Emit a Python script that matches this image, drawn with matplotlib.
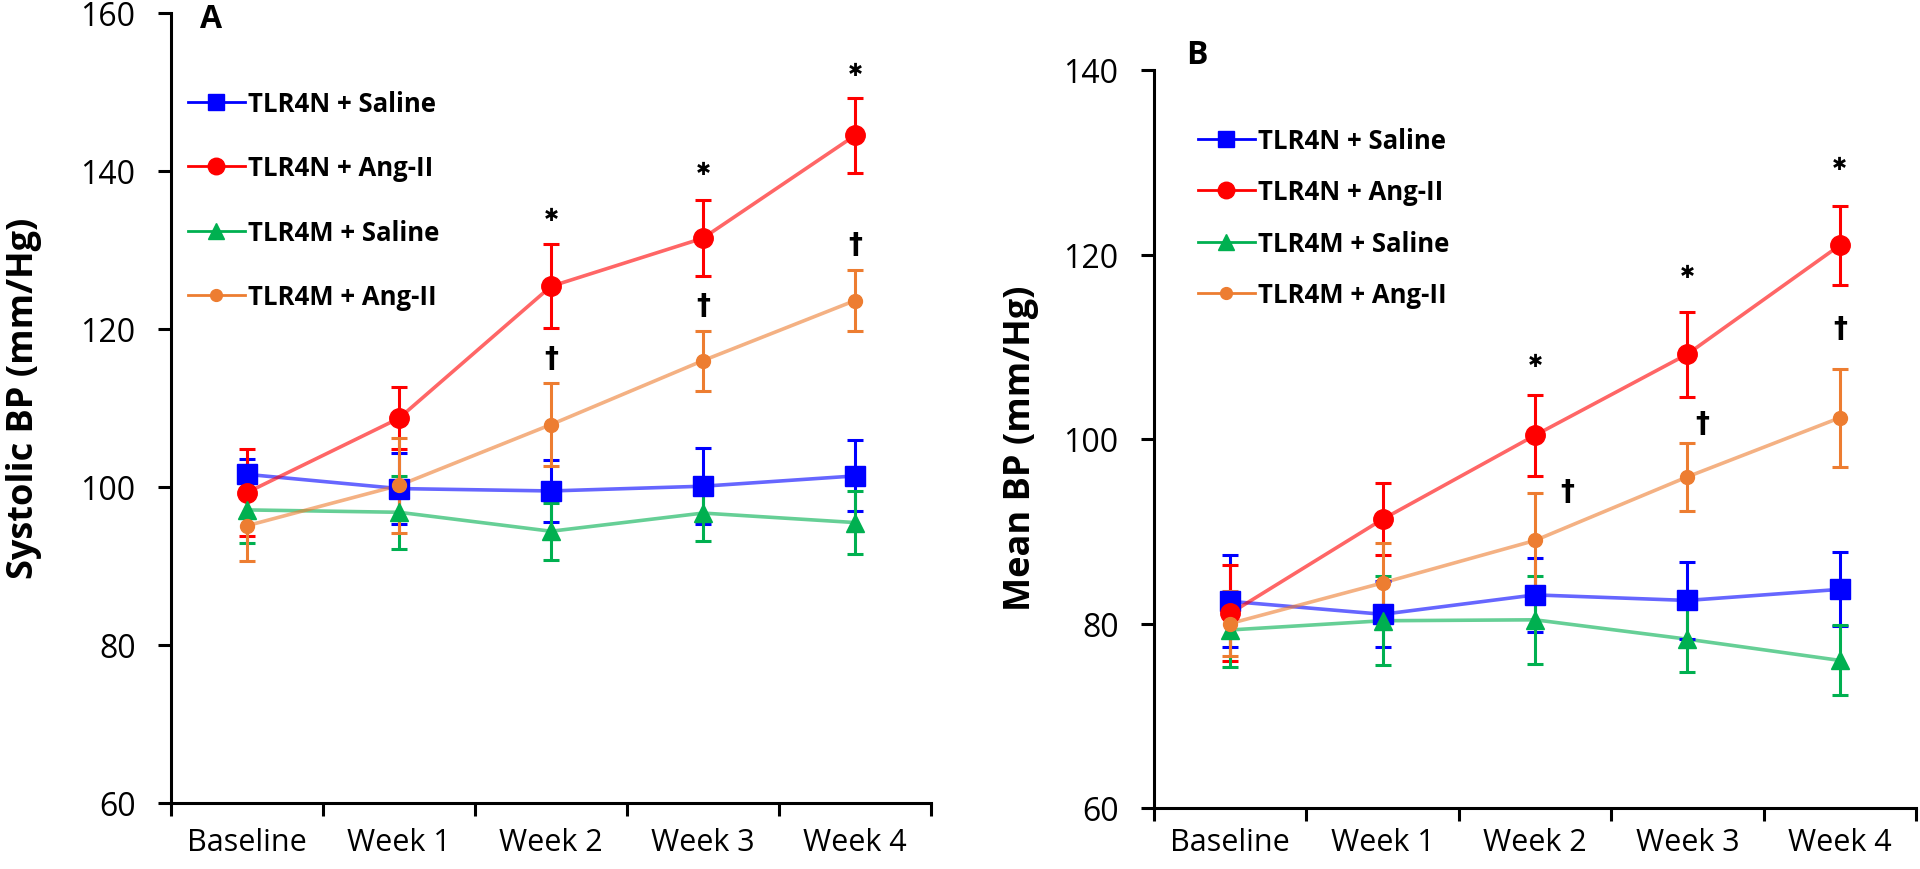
import matplotlib
matplotlib.use("Agg")
import matplotlib.pyplot as plt

plt.rcParams['font.family'] = ['Open Sans', 'DejaVu Sans']

categories = ['Baseline', 'Week 1', 'Week 2', 'Week 3', 'Week 4']
series_labels = ['TLR4N + Saline', 'TLR4N + Ang-II', 'TLR4M + Saline', 'TLR4M + Ang-II']

# Panel A: Systolic BP
sys_tlr4n_saline = [101.6, 99.8, 99.5, 100.1, 101.4]
sys_tlr4n_saline_err = [2.0, 4.5, 3.9, 4.8, 4.5]
sys_tlr4n_ang = [99.3, 108.7, 125.4, 131.5, 144.5]
sys_tlr4n_ang_err = [5.5, 3.9, 5.3, 4.8, 4.8]
sys_tlr4m_saline = [97.1, 96.8, 94.4, 96.7, 95.5]
sys_tlr4m_saline_err = [4.2, 4.6, 3.6, 3.5, 4.0]
sys_tlr4m_ang = [95.1, 100.2, 107.9, 116.0, 123.6]
sys_tlr4m_ang_err = [4.5, 6.0, 5.3, 3.8, 3.9]

# Panel B: Mean BP
mean_tlr4n_saline = [82.4, 81.0, 83.1, 82.5, 83.7]
mean_tlr4n_saline_err = [5.0, 3.6, 4.0, 4.2, 4.0]
mean_tlr4n_ang = [81.1, 91.3, 100.4, 109.2, 121.0]
mean_tlr4n_ang_err = [5.2, 3.9, 4.4, 4.6, 4.3]
mean_tlr4m_saline = [79.3, 80.3, 80.4, 78.3, 76.0]
mean_tlr4m_saline_err = [4.0, 4.8, 4.8, 3.6, 3.8]
mean_tlr4m_ang = [80.0, 84.4, 89.0, 95.9, 102.3]
mean_tlr4m_ang_err = [3.5, 4.3, 5.1, 3.7, 5.3]

# significance marks: (category index, y value[, x offset])
sys_star = [(2, 134.4), (3, 140.2), (4, 152.8)]
sys_dagger = [(2, 116.3, 0.0), (3, 123.1, 0.0), (4, 130.7, 0.0)]
mean_star = [(2, 108.5), (3, 118.1), (4, 129.8)]
mean_dagger = [(2, 94.4, 0.21), (3, 101.7, 0.1), (4, 112.0, 0.0)]

colors = ['#0000FF', '#FF0000', '#00B050', '#ED7D31']
markers = ['s', 'o', '^', 'o']
msizes = [14, 14, 13, 10]

fig = plt.figure(figsize=(19.2, 8.7), dpi=100)
axA = fig.add_axes([171/1920, 1-804/870, (931-171)/1920, (804-14)/870])
axB = fig.add_axes([1154/1920, 1-809/870, (1916-1154)/1920, (809-71)/870])


def draw(ax, data, errs, ylim, yticks, stars, daggers, legend_anchor, labelspacing, xpad):
    x = list(range(len(categories)))
    handles = []
    for vals, err, c, m, ms, lab in zip(data, errs, colors, markers, msizes, series_labels):
        ax.errorbar(x, vals, yerr=err, fmt='none', ecolor=c, elinewidth=2.2,
                    capsize=5.8, capthick=2.2, zorder=3)
        ax.plot(x, vals, color=c, lw=2.6, alpha=0.6, zorder=2)
        ax.plot(x, vals, color=c, marker=m, markersize=ms, lw=0, zorder=4)
        h, = ax.plot([], [], color=c, marker=m, markersize=ms * 0.85, lw=2, label=lab)
        handles.append(h)
    for i, y in stars:
        ax.text(x[i], y, '\u2731', ha='center', va='center', fontsize=13,
                color='black', family='DejaVu Sans', zorder=5)
    for i, y, dx in daggers:
        ax.text(x[i] + dx, y, '\u2020', ha='center', va='center', fontsize=20,
                color='black', fontweight='bold', family='DejaVu Sans', zorder=5)
    ax.set_xlim(-0.5, len(categories) - 0.5)
    ax.set_ylim(*ylim)
    ax.set_yticks(yticks)
    ax.set_yticklabels([str(t) for t in yticks])
    ax.set_xticks([i - 0.5 for i in range(len(categories) + 1)])
    ax.set_xticklabels([])
    ax.set_xticks(x, minor=True)
    ax.set_xticklabels(categories, minor=True)
    ax.tick_params(axis='x', which='major', direction='out', length=9.5, width=2.2)
    ax.tick_params(axis='x', which='minor', length=0, pad=xpad, labelsize=22)
    ax.tick_params(axis='y', direction='out', length=9.5, width=2.2, pad=16, labelsize=23)
    for s in ['top', 'right']:
        ax.spines[s].set_visible(False)
    for s in ['left', 'bottom']:
        ax.spines[s].set_linewidth(2.2)
    leg = ax.legend(handles=handles, loc='upper left', bbox_to_anchor=legend_anchor,
                    frameon=False, prop={'weight': 'bold', 'size': 18.5},
                    handlelength=2.2, handletextpad=0.12, labelspacing=labelspacing,
                    borderpad=0, borderaxespad=0)
    return leg


draw(axA, [sys_tlr4n_saline, sys_tlr4n_ang, sys_tlr4m_saline, sys_tlr4m_ang],
     [sys_tlr4n_saline_err, sys_tlr4n_ang_err, sys_tlr4m_saline_err, sys_tlr4m_ang_err],
     (60, 160), [60, 80, 100, 120, 140, 160], sys_star, sys_dagger,
     ((188-171)/760, (804-91)/790), 1.45, 17)
draw(axB, [mean_tlr4n_saline, mean_tlr4n_ang, mean_tlr4m_saline, mean_tlr4m_ang],
     [mean_tlr4n_saline_err, mean_tlr4n_ang_err, mean_tlr4m_saline_err, mean_tlr4m_ang_err],
     (60, 140), [60, 80, 100, 120, 140], mean_star, mean_dagger,
     ((1198-1154)/762, (809-128)/738), 0.95, 13.5)

fig.text(211/1920, 1-19/870, 'A', ha='center', va='center', fontsize=23, fontweight='bold')
fig.text(1197/1920, 1-55/870, 'B', ha='center', va='center', fontsize=23, fontweight='bold')
fig.text(24/1920, 1-398/870, 'Systolic BP (mm/Hg)', rotation=90, ha='center', va='center',
         fontsize=26, fontweight='bold')
fig.text(1021/1920, 1-448/870, 'Mean BP (mm/Hg)', rotation=90, ha='center', va='center',
         fontsize=26, fontweight='bold')

fig.savefig('out.png', dpi=100)
